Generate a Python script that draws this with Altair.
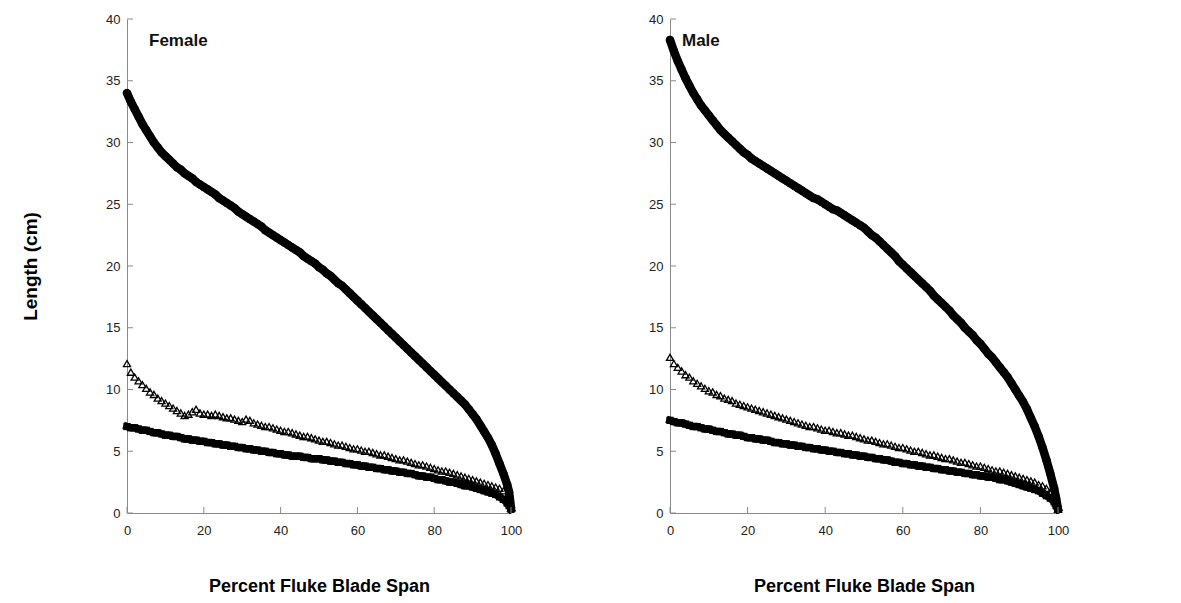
import altair as alt
import pandas as pd

span = list(range(100)) + [99.5, 100]

female_circle = [34.0, 33.3, 32.7, 32.1, 31.5, 31.0, 30.5, 30.0, 29.6, 29.2,
                 28.9, 28.6, 28.3, 28.0, 27.8, 27.5, 27.3, 27.1, 26.8, 26.6,
                 26.4, 26.2, 26.0, 25.8, 25.5, 25.3, 25.1, 24.9, 24.7, 24.4,
                 24.2, 24.0, 23.8, 23.6, 23.4, 23.2, 22.9, 22.7, 22.5, 22.3,
                 22.1, 21.9, 21.7, 21.5, 21.3, 21.1, 20.8, 20.6, 20.4, 20.2,
                 19.9, 19.7, 19.4, 19.2, 18.9, 18.6, 18.4, 18.1, 17.8, 17.5,
                 17.2, 16.9, 16.6, 16.3, 16.0, 15.7, 15.4, 15.1, 14.8, 14.5,
                 14.2, 13.9, 13.6, 13.3, 13.0, 12.7, 12.4, 12.1, 11.8, 11.5,
                 11.2, 10.9, 10.6, 10.3, 10.0, 9.7, 9.4, 9.1, 8.8, 8.4,
                 8.0, 7.6, 7.1, 6.6, 6.1, 5.5, 4.8, 4.0, 3.2, 2.3,
                 1.7, 0.4]
female_triangle = [12.1, 11.4, 11.0, 10.7, 10.4, 10.1, 9.8, 9.6, 9.3, 9.1,
                   8.9, 8.7, 8.5, 8.3, 8.1, 7.9, 8.0, 8.2, 8.4, 8.1,
                   8.0, 8.0, 7.9, 8.0, 7.9, 7.8, 7.7, 7.7, 7.6, 7.5,
                   7.4, 7.6, 7.5, 7.3, 7.2, 7.1, 7.0, 7.0, 6.9, 6.8,
                   6.7, 6.6, 6.6, 6.5, 6.4, 6.3, 6.2, 6.2, 6.1, 6.0,
                   5.9, 5.8, 5.8, 5.7, 5.6, 5.5, 5.5, 5.4, 5.3, 5.2,
                   5.2, 5.1, 5.0, 5.0, 4.9, 4.8, 4.7, 4.7, 4.6, 4.5,
                   4.4, 4.3, 4.3, 4.2, 4.1, 4.0, 3.9, 3.9, 3.8, 3.7,
                   3.6, 3.5, 3.4, 3.4, 3.3, 3.2, 3.1, 3.0, 2.9, 2.8,
                   2.7, 2.6, 2.5, 2.4, 2.3, 2.2, 2.1, 2.0, 1.8, 1.4,
                   0.9, 0.4]
female_square = [7.0, 6.9, 6.9, 6.8, 6.7, 6.7, 6.6, 6.5, 6.5, 6.4,
                 6.3, 6.3, 6.2, 6.2, 6.1, 6.0, 6.0, 5.9, 5.9, 5.8,
                 5.8, 5.7, 5.7, 5.6, 5.6, 5.5, 5.5, 5.4, 5.4, 5.3,
                 5.3, 5.2, 5.2, 5.1, 5.1, 5.0, 5.0, 4.9, 4.9, 4.8,
                 4.8, 4.7, 4.7, 4.6, 4.6, 4.6, 4.5, 4.5, 4.4, 4.4,
                 4.4, 4.3, 4.3, 4.2, 4.2, 4.1, 4.1, 4.0, 4.0, 3.9,
                 3.9, 3.8, 3.8, 3.7, 3.7, 3.6, 3.6, 3.5, 3.5, 3.4,
                 3.4, 3.3, 3.3, 3.2, 3.2, 3.1, 3.0, 3.0, 2.9, 2.9,
                 2.8, 2.7, 2.7, 2.6, 2.5, 2.5, 2.4, 2.3, 2.2, 2.2,
                 2.1, 2.0, 1.9, 1.8, 1.7, 1.6, 1.5, 1.3, 1.1, 0.8,
                 0.6, 0.3]

male_circle = [38.3, 37.4, 36.6, 35.9, 35.2, 34.6, 34.0, 33.5, 33.0, 32.6,
               32.2, 31.8, 31.4, 31.0, 30.7, 30.4, 30.1, 29.8, 29.5, 29.2,
               29.0, 28.7, 28.5, 28.3, 28.1, 27.9, 27.7, 27.5, 27.3, 27.1,
               26.9, 26.7, 26.5, 26.3, 26.1, 25.9, 25.7, 25.5, 25.4, 25.2,
               25.0, 24.8, 24.6, 24.5, 24.3, 24.1, 23.9, 23.7, 23.5, 23.3,
               23.1, 22.8, 22.5, 22.3, 22.0, 21.7, 21.4, 21.1, 20.8, 20.4,
               20.1, 19.8, 19.5, 19.2, 18.9, 18.6, 18.3, 18.0, 17.6, 17.3,
               17.0, 16.7, 16.4, 16.0, 15.7, 15.4, 15.0, 14.7, 14.4, 14.0,
               13.7, 13.3, 12.9, 12.6, 12.2, 11.8, 11.4, 11.0, 10.5, 10.0,
               9.5, 9.0, 8.4, 7.7, 7.0, 6.2, 5.3, 4.3, 3.2, 2.0,
               1.2, 0.3]
male_triangle = [12.6, 12.1, 11.8, 11.5, 11.2, 11.0, 10.7, 10.5, 10.3, 10.1,
                 9.9, 9.8, 9.6, 9.5, 9.3, 9.2, 9.1, 8.9, 8.8, 8.7,
                 8.6, 8.5, 8.4, 8.3, 8.2, 8.1, 8.0, 7.9, 7.8, 7.7,
                 7.6, 7.5, 7.4, 7.3, 7.2, 7.1, 7.0, 7.0, 6.9, 6.8,
                 6.7, 6.7, 6.6, 6.5, 6.5, 6.4, 6.3, 6.3, 6.2, 6.1,
                 6.0, 5.9, 5.9, 5.8, 5.7, 5.6, 5.6, 5.5, 5.4, 5.3,
                 5.3, 5.2, 5.1, 5.0, 5.0, 4.9, 4.8, 4.7, 4.7, 4.6,
                 4.5, 4.4, 4.4, 4.3, 4.2, 4.1, 4.1, 4.0, 3.9, 3.8,
                 3.8, 3.7, 3.6, 3.5, 3.4, 3.4, 3.3, 3.2, 3.1, 3.0,
                 2.9, 2.8, 2.7, 2.6, 2.5, 2.3, 2.2, 2.0, 1.7, 1.2,
                 0.8, 0.3]
male_square = [7.5, 7.4, 7.3, 7.3, 7.2, 7.1, 7.0, 7.0, 6.9, 6.8,
               6.8, 6.7, 6.6, 6.6, 6.5, 6.4, 6.4, 6.3, 6.3, 6.2,
               6.1, 6.1, 6.0, 6.0, 5.9, 5.9, 5.8, 5.7, 5.7, 5.6,
               5.6, 5.5, 5.5, 5.4, 5.4, 5.3, 5.3, 5.2, 5.2, 5.1,
               5.1, 5.0, 5.0, 4.9, 4.9, 4.8, 4.8, 4.7, 4.7, 4.6,
               4.6, 4.5, 4.5, 4.4, 4.4, 4.3, 4.3, 4.2, 4.1, 4.1,
               4.0, 4.0, 3.9, 3.9, 3.8, 3.8, 3.7, 3.7, 3.6, 3.6,
               3.5, 3.5, 3.4, 3.4, 3.3, 3.3, 3.2, 3.2, 3.1, 3.1,
               3.0, 3.0, 2.9, 2.9, 2.8, 2.7, 2.7, 2.6, 2.5, 2.4,
               2.3, 2.2, 2.1, 2.0, 1.9, 1.8, 1.6, 1.4, 1.2, 0.9,
               0.6, 0.3]

x_ticks = [0, 20, 40, 60, 80, 100]
y_ticks = [0, 5, 10, 15, 20, 25, 30, 35, 40]

H = 494
FONT = "Liberation Sans"
AXIS_GRAY = "#8a8a8a"


def panel(label, circ, tri, sq, show_ytitle, W, label_x):
    df = pd.DataFrame({"span": span, "circle": circ, "triangle": tri, "square": sq})
    x_enc = alt.X("span:Q", scale=alt.Scale(domain=[0, 100], nice=False),
                  axis=alt.Axis(values=x_ticks, ticks=False, grid=False,
                                labelFlush=False,
                                domainColor=AXIS_GRAY, labelFont=FONT,
                                labelFontSize=13, labelColor="#222",
                                labelPadding=11, title="Percent Fluke Blade Span",
                                titleFont=FONT, titleFontSize=18,
                                titleFontWeight="bold", titleColor="#000",
                                titlePadding=40))
    yaxis_kwargs = dict(values=y_ticks, ticks=False, grid=False,
                        labelFlush=False,
                        domainColor=AXIS_GRAY, labelFont=FONT, labelFontSize=13,
                        labelColor="#222", labelPadding=7)
    if show_ytitle:
        yaxis_kwargs.update(title="Length (cm)", titleFont=FONT, titleFontSize=19,
                            titleFontWeight="bold", titleColor="#000",
                            titlePadding=65)
    else:
        yaxis_kwargs.update(title=None)
    y_scale = alt.Scale(domain=[0, 40], nice=False)

    base = alt.Chart(df)
    sq_line = base.mark_line(color="black", strokeWidth=7.5, strokeJoin="round",
                             strokeCap="square").encode(
        x=x_enc, y=alt.Y("square:Q", scale=y_scale, axis=alt.Axis(**yaxis_kwargs)))
    sq_layer = base.mark_point(shape="square", filled=True, color="black",
                               size=52, opacity=1).encode(
        x="span:Q", y="square:Q")
    tri_layer = base.mark_point(shape="triangle-up", filled=False, color="black",
                                size=50, strokeWidth=1.3, opacity=1).encode(
        x="span:Q", y="triangle:Q")
    circ_line = base.mark_line(color="black", strokeWidth=8.5, strokeJoin="round",
                               strokeCap="round").encode(
        x="span:Q", y="circle:Q")
    circ_layer = base.mark_point(shape="circle", filled=True, color="black",
                                 size=70, opacity=1).encode(
        x="span:Q", y="circle:Q")

    yt = pd.DataFrame({"v": y_ticks})
    xt = pd.DataFrame({"v": x_ticks})
    ytick_layer = alt.Chart(yt).mark_rule(color=AXIS_GRAY, strokeWidth=1).encode(
        y="v:Q", x=alt.value(0), x2=alt.value(6))
    xtick_layer = alt.Chart(xt).mark_rule(color=AXIS_GRAY, strokeWidth=1).encode(
        x="v:Q", y=alt.value(H - 6), y2=alt.value(H))
    text_layer = alt.Chart(pd.DataFrame({"t": [label]})).mark_text(
        font=FONT, fontSize=17, fontWeight="bold", align="left",
        baseline="middle", color="#111").encode(
        text="t:N", x=alt.value(label_x), y=alt.value(22))

    return alt.layer(sq_line, sq_layer, tri_layer, circ_line, circ_layer,
                     ytick_layer, xtick_layer, text_layer).properties(width=W, height=H)


left = panel("Female", female_circle, female_triangle, female_square, True, 384, 22)
right = panel("Male", male_circle, male_triangle, male_square, False, 388, 12)

chart = alt.hconcat(left, right).properties(
    padding={"left": 13, "top": 5, "right": 5, "bottom": 5}
).configure_view(stroke=None).configure_concat(spacing=126)

chart.save("out.html", embed_options={"renderer": "svg", "actions": False})
